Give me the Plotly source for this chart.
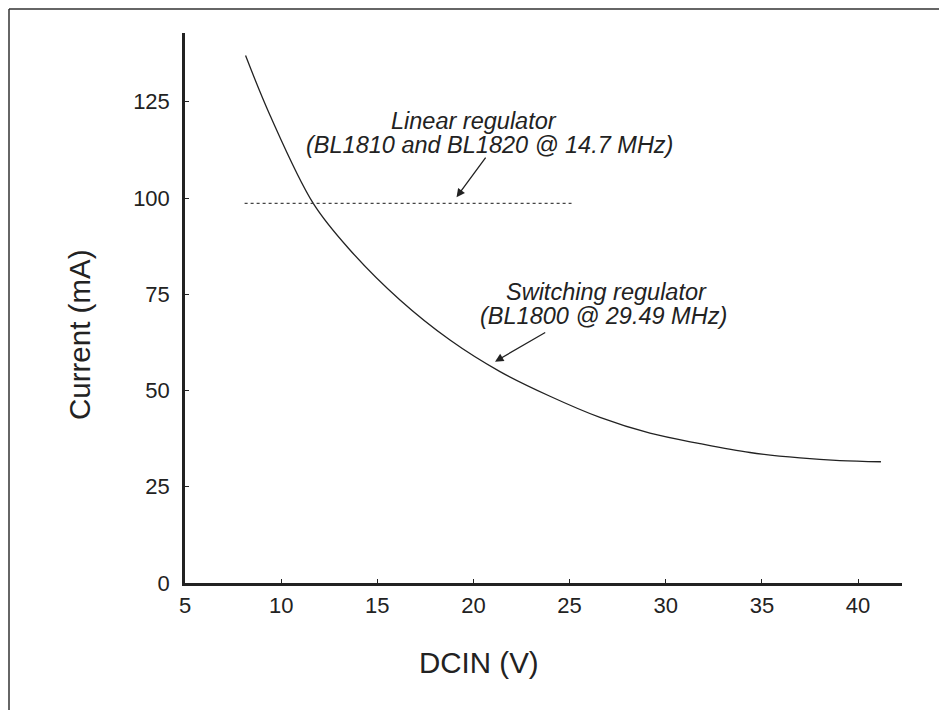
import plotly.graph_objects as go

# Switching regulator curve
sw_dcin = [8.15, 9.42, 11.67, 13.58, 16.18, 18.78, 21.38, 23.98, 26.58, 29.18, 31.78, 34.38, 36.98, 39.06, 41.19]
sw_current = [137.0, 121.5, 98.6, 86.5, 73.5, 63.1, 54.9, 48.5, 43.0, 38.9, 36.2, 33.9, 32.5, 31.8, 31.5]

# Linear regulator (constant)
lin_dcin = [8.1, 25.1]
lin_current = [98.6, 98.6]

x_ticks = [5, 10, 15, 20, 25, 30, 35, 40]
y_ticks = [0, 25, 50, 75, 100, 125]

FONT = "Arial, 'Liberation Sans', Helvetica, sans-serif"
INK = "#222222"

fig = go.Figure()
fig.add_trace(go.Scatter(x=sw_dcin, y=sw_current, mode="lines",
                         line=dict(color=INK, width=1.3, shape="spline", smoothing=1.0),
                         showlegend=False, hoverinfo="skip"))
fig.add_trace(go.Scatter(x=lin_dcin, y=lin_current, mode="lines",
                         line=dict(color="#444444", width=1.2, dash="dot"),
                         showlegend=False, hoverinfo="skip"))

# page body has an 8px margin: screen coords = figure coords + 8
OFF = 8
W, H = 947, 710
PL, PR, PT, PB = 185, 902, 33, 583   # plot area in screen pixels
PW, PH = PR - PL, PB - PT
L, T = PL - OFF, PT - OFF
R = W - L - PW
B = H - T - PH

def px(xp):
    return (xp - PL) / PW

def py(yp):
    return (PB - yp) / PH

annos = []
for txt, x, y in [("Linear regulator", 474, 121),
                  ("(BL1810 and BL1820 @ 14.7 MHz)", 489, 145),
                  ("Switching regulator", 606, 292),
                  ("(BL1800 @ 29.49 MHz)", 603, 316)]:
    annos.append(dict(text="<i>" + txt + "</i>", x=px(x), y=py(y), xref="paper", yref="paper",
                      showarrow=False, xanchor="center", yanchor="middle",
                      font=dict(family=FONT, size=23.5, color=INK)))
for hx, hy, tx, ty in [(19.12, 100.2, 20.69, 110.9), (21.12, 57.5, 23.81, 65.3)]:
    annos.append(dict(text="", x=hx, y=hy, ax=tx, ay=ty, xref="x", yref="y", axref="x", ayref="y",
                      showarrow=True, arrowhead=2, arrowsize=1.3, arrowwidth=1.3, arrowcolor=INK))
annos.append(dict(text="Current (mA)", x=px(79), y=py(335), xref="paper", yref="paper",
                  showarrow=False, textangle=-90, xanchor="center", yanchor="middle",
                  font=dict(family=FONT, size=29.5, color=INK)))
annos.append(dict(text="DCIN (V)", x=px(479), y=py(662), xref="paper", yref="paper",
                  showarrow=False, xanchor="center", yanchor="middle",
                  font=dict(family=FONT, size=29.5, color=INK)))

shapes = [
    dict(type="line", xref="paper", yref="paper", x0=px(9), x1=px(9), y0=py(9), y1=py(730),
         line=dict(color="#333333", width=1.5)),
    dict(type="line", xref="paper", yref="paper", x0=px(9), x1=px(960), y0=py(9), y1=py(9),
         line=dict(color="#333333", width=1.5)),
]

fig.update_layout(
    width=W, height=H,
    margin=dict(l=L, r=R, t=T, b=B),
    paper_bgcolor="white", plot_bgcolor="white",
    font=dict(family=FONT, color=INK),
    annotations=annos, shapes=shapes,
    xaxis=dict(range=[5, 5 + PW / 19.23], tickvals=x_ticks, ticktext=[str(v) for v in x_ticks],
               showgrid=False, zeroline=False, showline=True, linecolor=INK, linewidth=2.5,
               ticks="inside", ticklen=4, tickwidth=1, tickcolor=INK,
               tickfont=dict(family=FONT, size=22, color=INK), ticklabelstandoff=1),
    yaxis=dict(range=[0, PH / 3.85], tickvals=y_ticks, ticktext=[str(v) for v in y_ticks],
               showgrid=False, zeroline=False, showline=True, linecolor=INK, linewidth=2.5,
               ticks="inside", ticklen=4, tickwidth=1, tickcolor=INK,
               tickfont=dict(family=FONT, size=22, color=INK), ticklabelstandoff=8),
)

fig.write_html("out.html")
